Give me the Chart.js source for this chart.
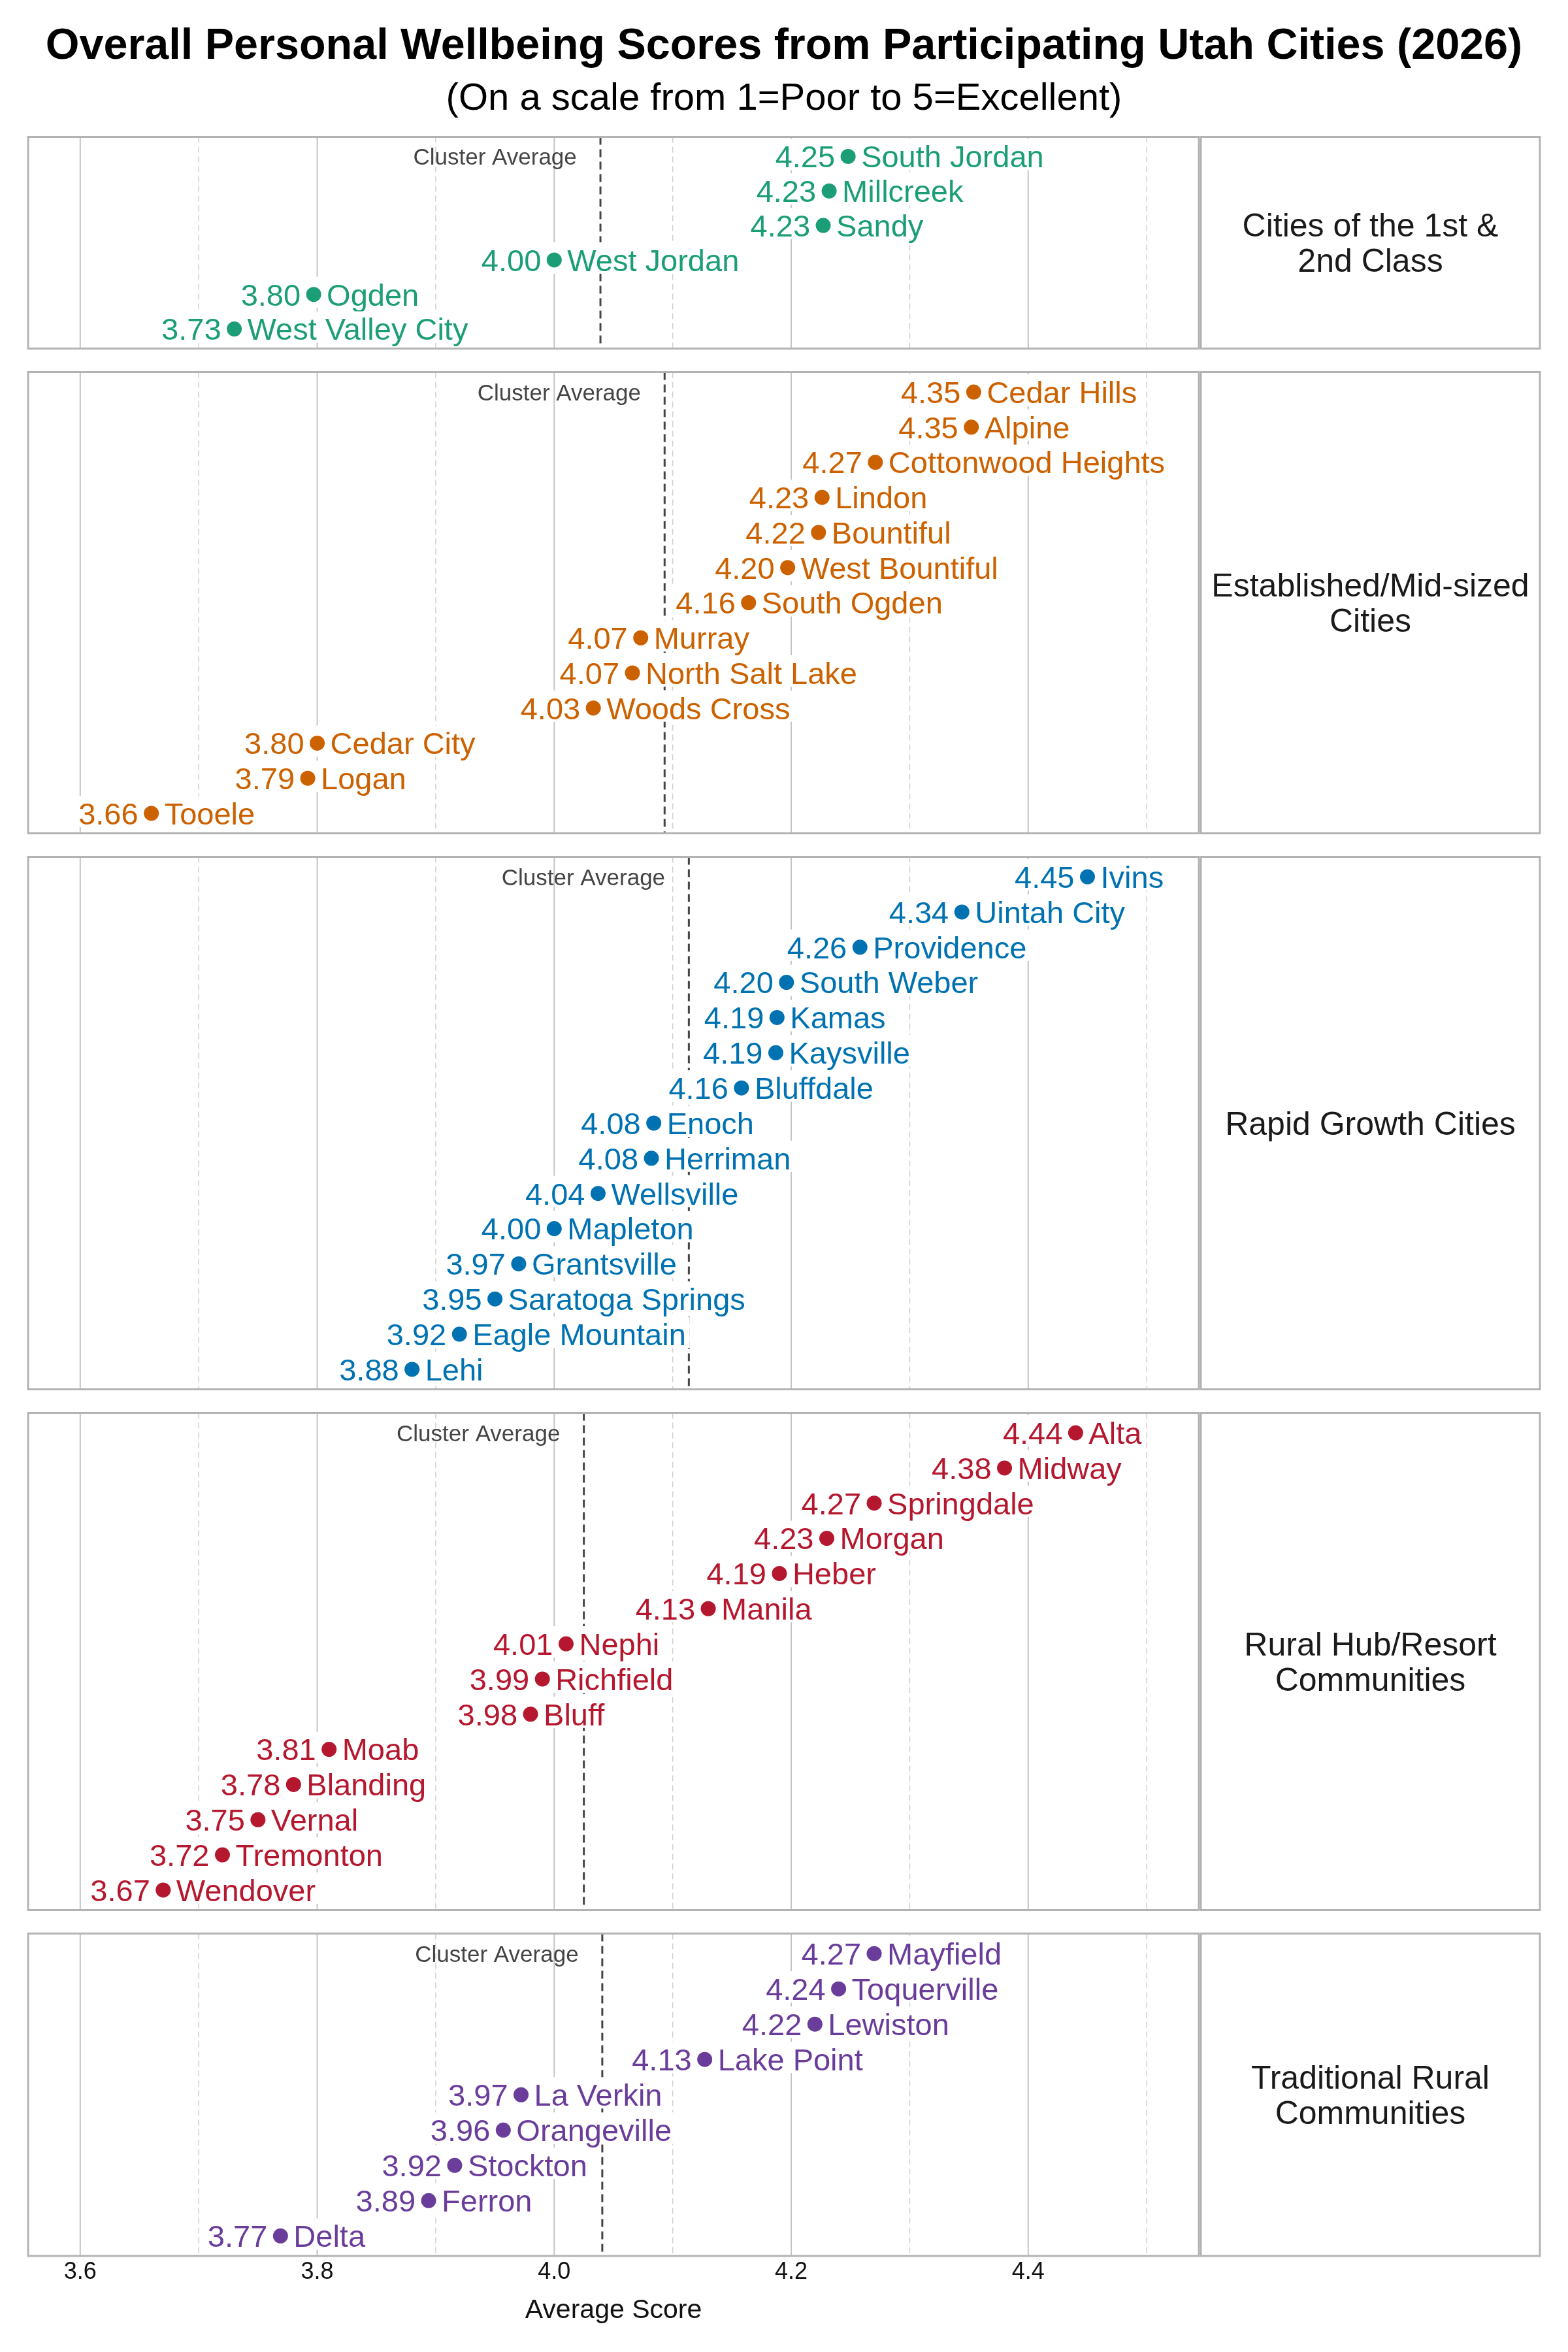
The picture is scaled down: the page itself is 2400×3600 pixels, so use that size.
<!DOCTYPE html>
<html lang="en">
<head>
    <meta charset="UTF-8">
    <title>Overall Personal Wellbeing Scores - Utah Cities (2026)</title>
    <script src="https://cdn.jsdelivr.net/npm/chart.js@4"></script>
    <style>
        body { margin: 0; background: #fff; font-family: "Liberation Sans", Arial, sans-serif; }
        .page { position: relative; width: 2400px; height: 3600px; overflow: hidden; }
        .title, .subtitle { position: absolute; left: 0; width: 2400px; text-align: center; color: #000; white-space: nowrap; }
        .title { top: 27px; font-size: 66.5px; line-height: 80px; font-weight: bold; }
        .subtitle { top: 113px; font-size: 58px; line-height: 70px; }
        canvas { position: absolute; left: 0; }
    </style>
</head>
<body>
<div class="page" id="page">
    <div class="title">Overall Personal Wellbeing Scores from Participating Utah Cities (2026)</div>
    <div class="subtitle">(On a scale from 1=Poor to 5=Excellent)</div>
</div>

<script>
    // --- data ---
    const firstClassCities = ['South Jordan', 'Millcreek', 'Sandy', 'West Jordan', 'Ogden', 'West Valley City'];
    const firstClassScores = [4.248, 4.232, 4.227, 4.000, 3.797, 3.730];

    const establishedCities = ['Cedar Hills', 'Alpine', 'Cottonwood Heights', 'Lindon', 'Bountiful', 'West Bountiful',
        'South Ogden', 'Murray', 'North Salt Lake', 'Woods Cross', 'Cedar City', 'Logan', 'Tooele'];
    const establishedScores = [4.354, 4.352, 4.271, 4.226, 4.223, 4.197, 4.164, 4.073, 4.066, 4.033, 3.800, 3.792, 3.660];

    const rapidGrowthCities = ['Ivins', 'Uintah City', 'Providence', 'South Weber', 'Kamas', 'Kaysville', 'Bluffdale',
        'Enoch', 'Herriman', 'Wellsville', 'Mapleton', 'Grantsville', 'Saratoga Springs', 'Eagle Mountain', 'Lehi'];
    const rapidGrowthScores = [4.450, 4.344, 4.258, 4.196, 4.188, 4.187, 4.158, 4.084, 4.082, 4.037, 4.000, 3.970, 3.950, 3.920, 3.880];

    const ruralHubCities = ['Alta', 'Midway', 'Springdale', 'Morgan', 'Heber', 'Manila', 'Nephi', 'Richfield', 'Bluff',
        'Moab', 'Blanding', 'Vernal', 'Tremonton', 'Wendover'];
    const ruralHubScores = [4.440, 4.380, 4.270, 4.230, 4.190, 4.130, 4.010, 3.990, 3.980, 3.810, 3.780, 3.750, 3.720, 3.670];

    const traditionalCities = ['Mayfield', 'Toquerville', 'Lewiston', 'Lake Point', 'La Verkin', 'Orangeville', 'Stockton', 'Ferron', 'Delta'];
    const traditionalScores = [4.270, 4.240, 4.220, 4.127, 3.972, 3.957, 3.916, 3.894, 3.769];

    const clusterLabels = [
        ['Cities of the 1st &', '2nd Class'],
        ['Established/Mid-sized', 'Cities'],
        ['Rapid Growth Cities'],
        ['Rural Hub/Resort', 'Communities'],
        ['Traditional Rural', 'Communities']
    ];
    const clusterColors = ['#1b9e77', '#cc6100', '#0072b2', '#b5172e', '#6a3d9a'];

    const xMajorTicks = [3.6, 3.8, 4.0, 4.2, 4.4];
    const xMinorTicks = [3.7, 3.9, 4.1, 4.3, 4.5];

    const panelCities = [firstClassCities, establishedCities, rapidGrowthCities, ruralHubCities, traditionalCities];
    const panelScores = [firstClassScores, establishedScores, rapidGrowthScores, ruralHubScores, traditionalScores];

    // --- layout ---
    const X_MIN = 3.556, X_MAX = 4.544;
    const PLOT_LEFT = 43, PLOT_RIGHT = 1835, STRIP_LEFT = 1838, STRIP_RIGHT = 2357;
    const ROW_H = 54.6, ROW_PAD = 31, PANEL_GAP = 25, FIRST_TOP = 204, EDGE = 6;
    const FONT = '"Liberation Sans", Arial, sans-serif';

    Chart.defaults.font.family = FONT;

    function decorPlugin(cities, scores, color, strip) {
        const avg = scores.reduce((s, v) => s + v, 0) / scores.length;
        return {
            id: 'panelDecor',
            beforeDatasetsDraw(chart) {
                const { ctx, chartArea: a, scales: { x, y } } = chart;
                ctx.save();

                // minor (dashed) and major (solid) vertical grid
                ctx.lineWidth = 1.5;
                ctx.strokeStyle = '#d0d0d0';
                ctx.setLineDash([9, 6]);
                xMinorTicks.forEach(v => {
                    const px = x.getPixelForValue(v);
                    ctx.beginPath(); ctx.moveTo(px, a.top); ctx.lineTo(px, a.bottom); ctx.stroke();
                });
                ctx.lineWidth = 2;
                ctx.strokeStyle = '#c4c4c4';
                ctx.setLineDash([]);
                xMajorTicks.forEach(v => {
                    const px = x.getPixelForValue(v);
                    ctx.beginPath(); ctx.moveTo(px, a.top); ctx.lineTo(px, a.bottom); ctx.stroke();
                });

                // cluster average line
                const ax = x.getPixelForValue(avg);
                ctx.lineWidth = 3;
                ctx.strokeStyle = '#444';
                ctx.setLineDash([12, 7]);
                ctx.beginPath(); ctx.moveTo(ax, a.top); ctx.lineTo(ax, a.bottom); ctx.stroke();
                ctx.setLineDash([]);

                ctx.font = '35px ' + FONT;
                ctx.fillStyle = '#444';
                ctx.textAlign = 'right';
                ctx.textBaseline = 'alphabetic';
                ctx.fillText('Cluster Average', x.getPixelForValue(avg - 0.02), y.getPixelForValue(0) + 0.358 * 35);

                // value / name labels on white boxes
                const fs = 47;
                ctx.font = fs + 'px ' + FONT;
                scores.forEach((v, i) => {
                    const cx = x.getPixelForValue(v);
                    const cy = y.getPixelForValue(i);
                    const valTxt = v.toFixed(2);
                    const wv = ctx.measureText(valTxt).width;
                    const wn = ctx.measureText(cities[i]).width;
                    ctx.fillStyle = '#fff';
                    ctx.fillRect(cx - 20 - wv - 6, cy - 27, wv + wn + 52, 48);
                    ctx.fillStyle = color;
                    const base = cy + 0.358 * fs;
                    ctx.textAlign = 'right';
                    ctx.fillText(valTxt, cx - 20, base);
                    ctx.textAlign = 'left';
                    ctx.fillText(cities[i], cx + 20, base);
                });
                ctx.restore();
            },
            afterDatasetsDraw(chart) {
                const { ctx, chartArea: a } = chart;
                ctx.save();
                ctx.strokeStyle = '#b3b3b3';
                ctx.lineWidth = 3;
                ctx.strokeRect(a.left, a.top, a.right - a.left, a.bottom - a.top);
                ctx.strokeRect(STRIP_LEFT, a.top, STRIP_RIGHT - STRIP_LEFT, a.bottom - a.top);

                ctx.fillStyle = '#1a1a1a';
                ctx.font = '50px ' + FONT;
                ctx.textAlign = 'center';
                ctx.textBaseline = 'alphabetic';
                const mid = (a.top + a.bottom) / 2;
                const cxs = (STRIP_LEFT + STRIP_RIGHT) / 2;
                strip.forEach((line, k) => {
                    const cy = mid + (k - (strip.length - 1) / 2) * 54;
                    ctx.fillText(line, cxs, cy + 0.358 * 50);
                });
                ctx.restore();
            }
        };
    }

    const page = document.getElementById('page');
    let cursorY = FIRST_TOP;

    panelScores.forEach((scores, p) => {
        const n = scores.length;
        const last = p === panelScores.length - 1;
        const panelTop = Math.round(cursorY);
        const panelH = Math.round((n - 1) * ROW_H + 2 * ROW_PAD);
        const canvasTop = panelTop - EDGE;
        const canvasH = last ? 3600 - canvasTop : panelH + 2 * EDGE;
        const axisH = 3600 - (panelTop + panelH);

        const canvas = document.createElement('canvas');
        canvas.width = 2400;
        canvas.height = canvasH;
        canvas.style.top = canvasTop + 'px';
        page.appendChild(canvas);

        const yPad = ROW_PAD / ROW_H;

        const xScale = {
            type: 'linear',
            min: X_MIN,
            max: X_MAX,
            display: last,
            grid: { display: false, drawTicks: false },
            border: { display: false },
            afterBuildTicks: axis => { axis.ticks = xMajorTicks.map(v => ({ value: v })); },
            ticks: {
                padding: 3,
                color: '#111',
                font: { size: 36 },
                maxRotation: 0,
                callback: v => v.toFixed(1)
            },
            title: {
                display: true,
                text: 'Average Score',
                color: '#111',
                font: { size: 41 },
                padding: { top: 0, bottom: 39 }
            }
        };
        if (last) {
            xScale.afterFit = axis => { axis.height = axisH; };
        }

        new Chart(canvas, {
            type: 'scatter',
            data: {
                datasets: [{
                    data: scores.map((v, i) => ({ x: v, y: i })),
                    backgroundColor: clusterColors[p],
                    borderWidth: 0,
                    pointRadius: 11.5,
                    pointHoverRadius: 11.5
                }]
            },
            options: {
                responsive: false,
                animation: false,
                devicePixelRatio: 1,
                events: [],
                layout: { padding: { left: PLOT_LEFT, right: 2400 - PLOT_RIGHT, top: EDGE, bottom: last ? 0 : EDGE } },
                plugins: { legend: { display: false }, tooltip: { enabled: false } },
                scales: {
                    x: xScale,
                    y: {
                        type: 'linear',
                        reverse: true,
                        min: -yPad,
                        max: n - 1 + yPad,
                        display: false
                    }
                }
            },
            plugins: [decorPlugin(panelCities[p], scores, clusterColors[p], clusterLabels[p])]
        });

        cursorY = panelTop + panelH + PANEL_GAP;
    });
</script>
</body>
</html>
